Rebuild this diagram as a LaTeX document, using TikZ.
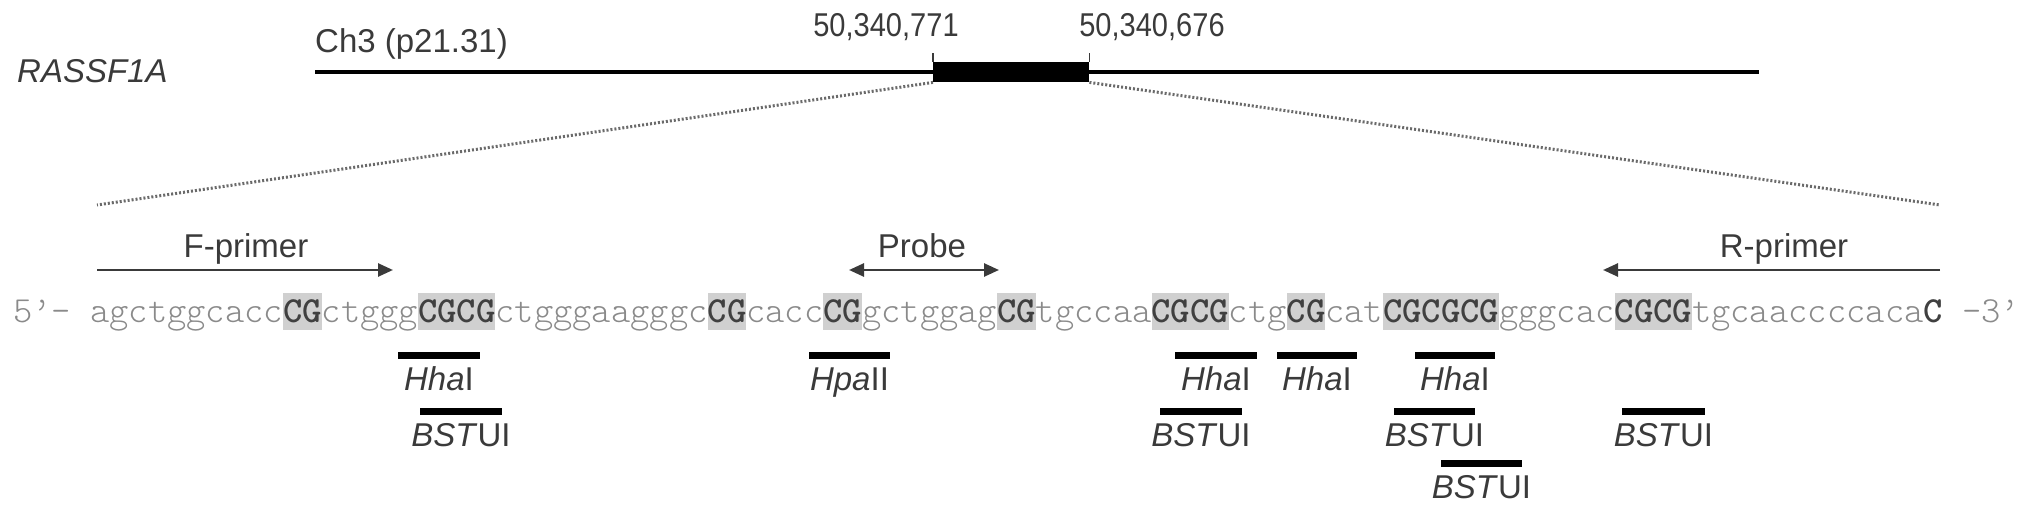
\documentclass[tikz,border=0pt]{standalone}
\usepackage{fontspec}
\setmainfont{Liberation Sans}
\newfontfamily\seqf{lmmonolt10-regular.otf}[BoldFont=lmmonolt10-bold.otf]
\usetikzlibrary{arrows.meta}
\definecolor{txt}{HTML}{3A3A3A}
\definecolor{seqlo}{HTML}{8A8A8A}
\definecolor{seqhi}{HTML}{404040}
\definecolor{cgbox}{HTML}{D0D0D0}
\definecolor{dotc}{HTML}{6A6A6A}
\newcommand\sqlo[1]{{\color{seqlo}#1}}
\newcommand\sqhi[1]{{\bfseries\color{seqhi}#1}}
\newcommand\gapch{\hspace*{19.3pt}}
\begin{document}
\begin{tikzpicture}[x=1pt,y=-1pt,
  lbl/.style={inner sep=0pt, text=txt, font=\fontsize{33}{36}\selectfont},
  seqfont/.style={inner sep=0pt, font=\seqf\fontsize{36.76}{40}\selectfont},
  arr/.style={draw=txt, line width=2.6pt, -{Triangle[length=15pt,width=13pt]}},
  darr/.style={draw=txt, line width=2.6pt, {Triangle[length=15pt,width=13pt]}-{Triangle[length=15pt,width=13pt]}},
  enzbar/.style={line width=7pt, black},
  dots/.style={draw=dotc, line width=3pt, dash pattern=on 2pt off 2pt},
  tickln/.style={draw=txt, line width=1.6pt}]
\useasboundingbox (0,0) rectangle (2032,513);

% --- chromosome overview ---
\node[lbl, anchor=base west] (gene) at (17,83) {\itshape RASSF1A};
\node[lbl, anchor=base west] (chr) at (315,53) {Ch3 (p21.31)};
\node[lbl, anchor=base, xscale=0.88] (posA) at (886,37) {50,340,771};
\node[lbl, anchor=base, xscale=0.88] (posB) at (1152,37) {50,340,676};
\coordinate (chrL) at (315,72);
\coordinate (chrR) at (1759,72);
\draw[line width=4.5pt, black] (chrL) -- (chrR);
\node[fill=black, inner sep=0pt, minimum width=156pt, minimum height=20pt, anchor=north west] (exon) at (933,62) {};
\draw[tickln] (exon.north west) -- ++(0,-9);
\draw[tickln] (exon.north east) -- ++(0,-9);
\coordinate (zl) at (97,205);
\coordinate (zr) at (1940,205);
\draw[dots] (exon.south west) -- (zl);
\draw[dots] (exon.south east) -- (zr);

% --- primers and probe ---
\coordinate (fs) at (97,270);  \coordinate (fe) at (393,270);
\coordinate (ps) at (849,270); \coordinate (pe) at (999,270);
\coordinate (rs) at (1940,270); \coordinate (re) at (1603,270);
\draw[arr] (fs) -- (fe);
\draw[darr] (ps) -- (pe);
\draw[arr] (rs) -- (re);
\node[lbl, anchor=base] (fl) at (246,258) {F-primer};
\node[lbl, anchor=base] (pl) at (922,258) {Probe};
\node[lbl, anchor=base] (rl) at (1784,258) {R-primer};

% --- CpG shading ---
\foreach \s/\n in {10/2,17/4,32/2,38/2,47/2,55/4,62/2,67/6,79/4}
  \fill[cgbox] ({90+19.3*\s},293) rectangle ({90+19.3*(\s+\n)},330);

% --- sequence ---
\node[seqfont, anchor=base west] (seq) at (12.8,322) {\sqlo{5’-}\gapch\sqlo{agctggcacc}\sqhi{CG}\sqlo{ctggg}\sqhi{CGCG}\sqlo{ctgggaagggc}\sqhi{CG}\sqlo{cacc}\sqhi{CG}\sqlo{gctggag}\sqhi{CG}\sqlo{tgccaa}\sqhi{CGCG}\sqlo{ctg}\sqhi{CG}\sqlo{cat}\sqhi{CGCGCG}\sqlo{gggcac}\sqhi{CGCG}\sqlo{tgcaaccccaca}\sqhi{C}\gapch\sqlo{-3’}};

% --- restriction sites ---
\foreach \a/\b/\y/\nm/\t in {
  398/480/355/h1/{\textit{Hha}I},
  809/890/355/p1/{\textit{Hpa}II},
  1175/1257/355/h2/{\textit{Hha}I},
  1277/1357/355/h3/{\textit{Hha}I},
  1415/1495/355/h4/{\textit{Hha}I},
  420/502/411/b1/{\textit{BST}UI},
  1160/1242/411/b2/{\textit{BST}UI},
  1394/1475/411/b3/{\textit{BST}UI},
  1622/1705/411/b4/{\textit{BST}UI},
  1441/1522/463/b5/{\textit{BST}UI}}
{
  \coordinate (\nm L) at (\a,\y);
  \coordinate (\nm R) at (\b,\y);
  \draw[enzbar] (\nm L) -- (\nm R);
  \node[lbl, anchor=base] (\nm t) at ({(\a+\b)/2},{\y+35}) {\t};
}
\end{tikzpicture}
\end{document}
